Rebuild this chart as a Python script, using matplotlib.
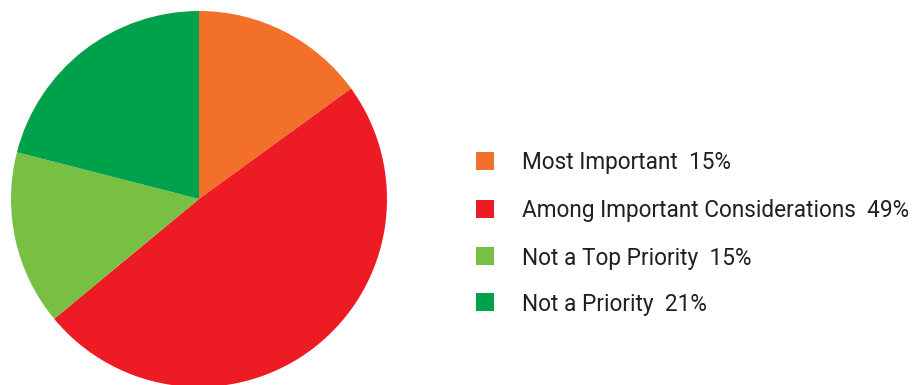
import matplotlib.pyplot as plt
from matplotlib.patches import Rectangle

# Survey shares, clockwise from the top
labels = ['Most Important', 'Among Important Considerations', 'Not a Top Priority', 'Not a Priority']
values = [15, 49, 15, 21]
colors = ['#F3702B', '#ED1C24', '#78C043', '#00A14B']

W, H = 913, 385
fig = plt.figure(figsize=(W / 100, H / 100), dpi=100)

# pie axes placed so the circle sits at (199, 199) px from top-left, radius 188 px
cx, cy, r = 199, 199, 188
ax = fig.add_axes([(cx - r) / W, (H - cy - r) / H, 2 * r / W, 2 * r / H])
ax.pie(values, colors=colors, startangle=90, counterclock=False, radius=1,
       wedgeprops=dict(linewidth=0))
ax.set_xlim(-1, 1)
ax.set_ylim(-1, 1)
ax.set_aspect('equal')
ax.axis('off')

# legend drawn by hand in pixel positions
row_y = [161, 209, 256, 302]
for lab, val, col, y in zip(labels, values, colors, row_y):
    fig.patches.append(Rectangle((476 / W, (H - y - 9) / H), 18 / W, 18 / H,
                                 transform=fig.transFigure, facecolor=col, edgecolor='none'))
    fig.text(522 / W, (H - y - 2) / H, f'{lab}  {val}%', fontsize=16.3, color='#231F20',
             va='center', ha='left', family='Roboto')

fig.savefig('out.png', dpi=100)
